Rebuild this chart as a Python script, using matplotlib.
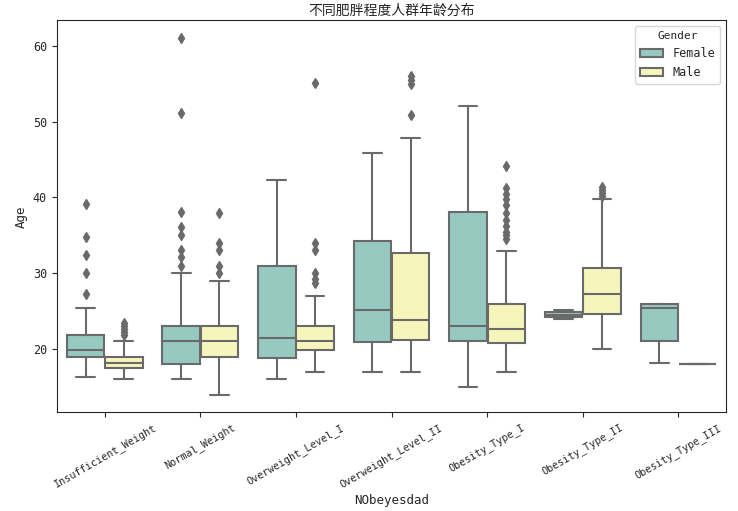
import matplotlib
matplotlib.use("Agg")
import matplotlib.pyplot as plt
import matplotlib.patches as mpatches
import seaborn as sns

sns.set_style("ticks")
plt.rcParams["font.family"] = ["DejaVu Sans Mono", "Noto Sans CJK SC"]

categories = ["Insufficient_Weight", "Normal_Weight", "Overweight_Level_I",
              "Overweight_Level_II", "Obesity_Type_I", "Obesity_Type_II",
              "Obesity_Type_III"]
genders = ["Female", "Male"]

# box stats: whislo, q1, median, q3, whishi
female_whislo = [16.3, 16.0, 16.0, 17.0, 15.0, 24.0, 18.15]
female_q1 = [19.0, 18.0, 18.8, 20.9, 21.0, 24.2, 21.0]
female_med = [19.9, 21.0, 21.45, 25.1, 23.1, 24.5, 25.45]
female_q3 = [21.85, 23.0, 31.0, 34.2, 38.1, 24.85, 26.0]
female_whishi = [25.4, 30.0, 42.3, 45.8, 52.0, 25.1, 26.0]
female_fliers = [[27.2, 30.0, 32.4, 34.8, 39.1],
                 [31.0, 32.1, 33.1, 35.0, 36.1, 38.1, 51.1, 61.0],
                 [], [], [], [], []]

male_whislo = [16.0, 14.0, 17.0, 17.0, 17.0, 20.0, 18.0]
male_q1 = [17.5, 19.0, 19.9, 21.2, 20.8, 24.6, 18.0]
male_med = [18.1, 21.0, 21.0, 23.9, 22.7, 27.3, 18.0]
male_q3 = [19.0, 23.0, 23.1, 32.7, 26.0, 30.7, 18.0]
male_whishi = [21.1, 29.0, 27.0, 47.8, 33.0, 39.85, 18.0]
male_fliers = [[21.8, 22.2, 22.6, 23.0, 23.4],
               [30.0, 31.0, 33.1, 34.0, 38.0],
               [28.7, 29.3, 30.0, 33.1, 34.0, 55.1],
               [50.9, 55.0, 55.5, 56.0],
               [34.5, 35.0, 35.5, 36.2, 37.0, 38.0, 39.0, 39.8, 40.5, 41.2, 44.2],
               [40.2, 40.6, 41.0, 41.4],
               []]

palette = sns.color_palette("Set3", 2)
colors = [sns.desaturate(c, 0.75) for c in palette]
gray = "#6a6a6a"

fig = plt.figure(figsize=(7.38, 5.11), dpi=100)
ax = fig.add_axes([0.077, 0.193, 0.907, 0.767])

series = [
    (female_whislo, female_q1, female_med, female_q3, female_whishi, female_fliers),
    (male_whislo, male_q1, male_med, male_q3, male_whishi, male_fliers),
]
for j, (lo, q1, med, q3, hi, fl) in enumerate(series):
    stats = [dict(whislo=lo[i], q1=q1[i], med=med[i], q3=q3[i], whishi=hi[i],
                  fliers=fl[i]) for i in range(len(categories))]
    pos = [i - 0.2 + 0.4 * j for i in range(len(categories))]
    ax.bxp(stats, positions=pos, widths=0.392, patch_artist=True, manage_ticks=False,
           boxprops=dict(facecolor=colors[j], edgecolor=gray, linewidth=1.5),
           medianprops=dict(color=gray, linewidth=1.5),
           whiskerprops=dict(color=gray, linewidth=1.5),
           capprops=dict(color=gray, linewidth=1.5),
           flierprops=dict(marker="d", markerfacecolor=gray, markeredgecolor=gray,
                           markersize=5, linestyle="none"))

ax.set_xlim(-0.5, len(categories) - 0.5)
ax.set_xticks(range(len(categories)))
ax.set_xticklabels(categories, rotation=30, fontsize=7.3)
ax.tick_params(axis="y", labelsize=8.5)
ax.set_yticks([20, 30, 40, 50, 60])
ax.set_xlabel("NObeyesdad", fontsize=9, labelpad=3)
ax.set_ylabel("Age", fontsize=9)
ax.set_title("不同肥胖程度人群年龄分布", fontsize=10,
             family=["Noto Sans CJK SC", "DejaVu Sans"], pad=4)

handles = [mpatches.Patch(facecolor=colors[j], edgecolor=gray, linewidth=1.5, label=g)
           for j, g in enumerate(genders)]
ax.legend(handles=handles, title="Gender", loc="upper right", fontsize=8.5, title_fontsize=8)

fig.savefig("out.png", dpi=100)
